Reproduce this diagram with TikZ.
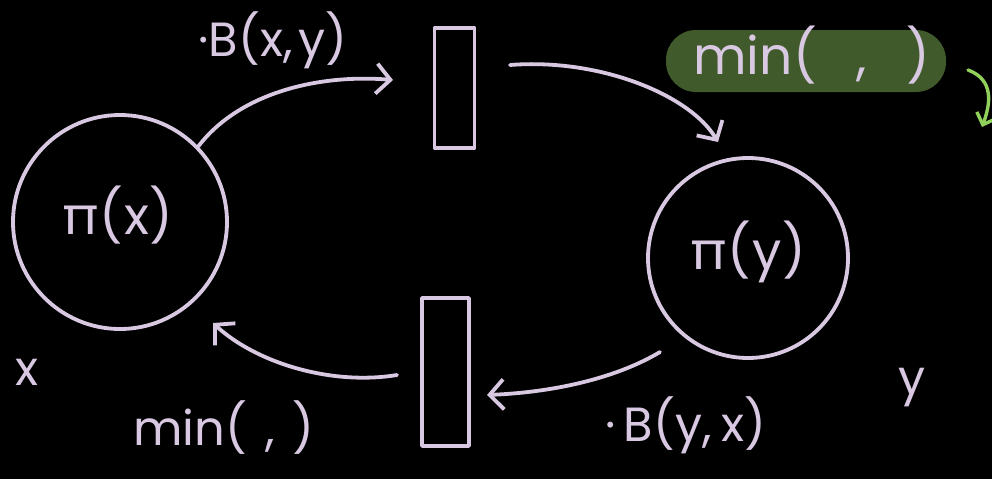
\documentclass[tikz,border=0pt]{standalone}
\usepackage{fontspec}
\setmainfont{Poppins}
\usetikzlibrary{arrows.meta}
\definecolor{lav}{HTML}{D8C8E2}
\definecolor{hl}{HTML}{415A2B}
\definecolor{lgreen}{HTML}{8FD15A}
\tikzset{
  ink/.style={draw=lav,line width=3.8pt,line cap=round,line join=round},
  bub/.style={ink,circle,inner sep=0pt},
  bar/.style={ink,rectangle,inner sep=0pt},
  conn/.style={ink,-{Straight Barb[length=14pt,width=30pt,line width=3.8pt]}},
  lbl/.style={text=lav,inner sep=0pt,font=\fontsize{48}{52}\selectfont}
}
\begin{document}
\begin{tikzpicture}[x=1pt,y=-1pt]
\fill[black] (0,0) rectangle (992,479);
\useasboundingbox (0,0) rectangle (992,479);
% nodes
\node[bub,minimum size=214pt] (L) at (120,222) {};
\node[bub,minimum size=200pt] (R) at (748,258) {};
\node[bar,minimum width=40pt,minimum height=120pt] (T) at (454.5,88) {};
\node[bar,minimum width=47pt,minimum height=148pt] (B) at (445.5,372) {};
\node[lbl,font=\fontsize{52}{56}\selectfont] (pix) at (118,215) {π(\kern2pt x)};
\node[lbl,font=\fontsize{52}{56}\selectfont] (piy) at (748,252) {π(\kern2pt y)};
% labels
\node[lbl] (bxy) at (273,40) {·B(x,\kern6pt y)};
\node[lbl] (byx) at (686,425) {·\kern8pt B(y,\kern10pt x)};
\node[lbl] (xl) at (27,372) {x};
\node[lbl] (yl) at (912,388) {y};
\node[lbl] (minb) at (224,428) {min(\hspace{18pt},\hspace{18pt})};
% highlight
\node[fill=hl,rounded corners=30pt,minimum width=280pt,minimum height=62pt,inner sep=0pt] (hlb) at (806,61) {};
\node[lbl,font=\fontsize{52}{56}\selectfont] (mint) at (812,55) {min(\hspace{40pt},\hspace{40pt})};
% connector anchor coordinates
\coordinate (a1) at (393,80);
\coordinate (s2) at (510,65);
\coordinate (a2) at (718,142);
\coordinate (s3) at (660,352);
\coordinate (a3) at (487,395);
\coordinate (s4) at (397,375);
\coordinate (a4) at (213,323);
\coordinate (g1) at (968,70);
\coordinate (g2) at (982,127);
% connectors
\draw[conn] (L.44) .. controls (240,92) and (320,74) .. (a1);
\draw[conn] (s2) .. controls (600,58) and (690,95) .. (a2);
\draw[conn] (s3) .. controls (620,376) and (560,392) .. (a3);
\draw[conn] (s4) .. controls (330,386) and (255,362) .. (a4);
\draw[draw=lgreen,line width=3.4pt,line cap=round,-{Straight Barb[length=10pt,width=20pt,line width=3.4pt]}] (g1) .. controls (995,80) and (990,105) .. (g2);
\end{tikzpicture}
\end{document}
